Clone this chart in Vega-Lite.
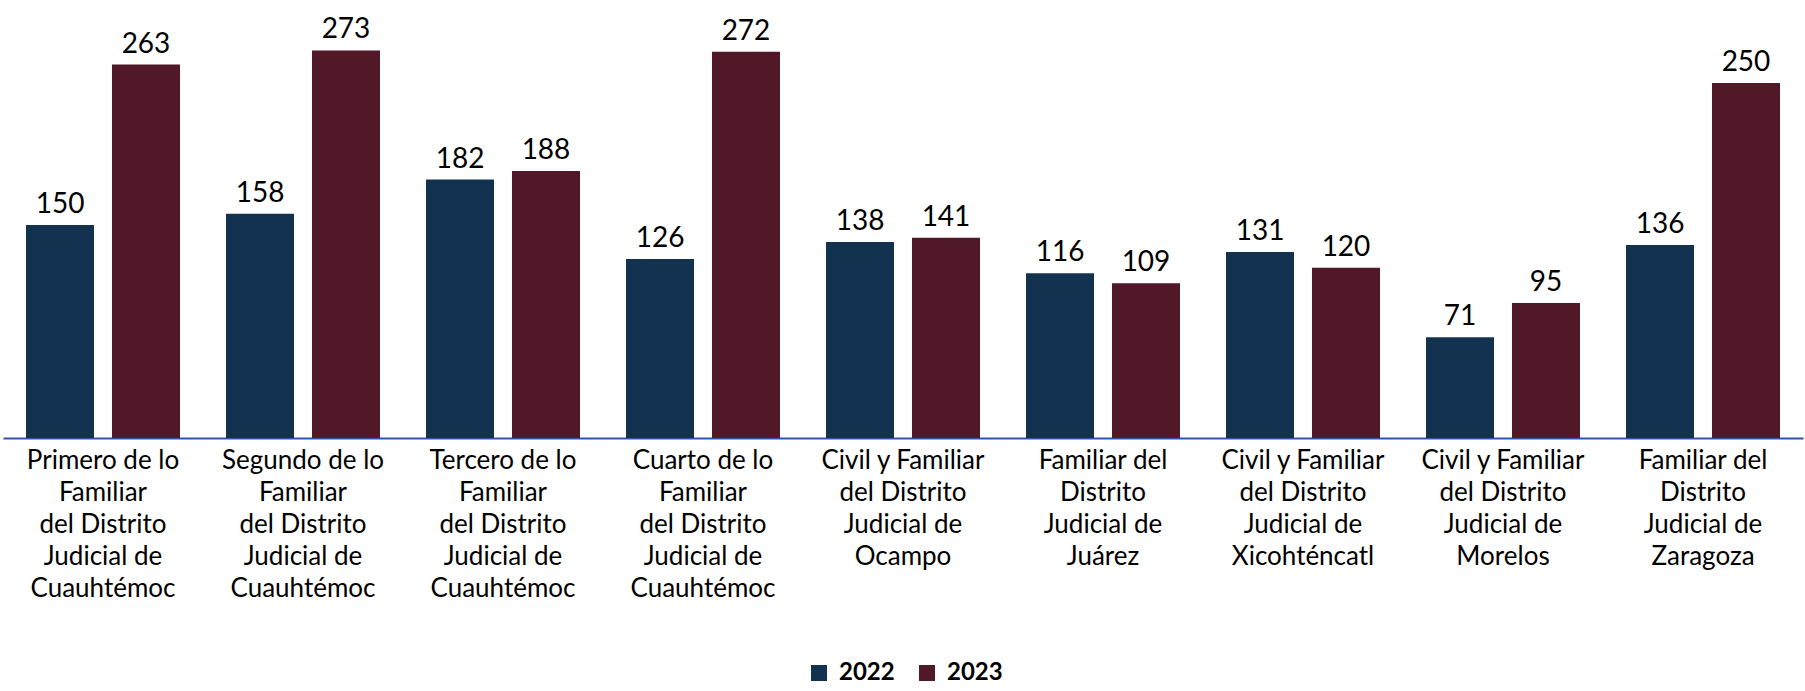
{
  "$schema": "https://vega.github.io/schema/vega-lite/v6.json",
  "autosize": "none",
  "width": 1800,
  "height": 438,
  "padding": {"left": 3, "top": 0, "right": 2, "bottom": 253},
  "background": "white",
  "config": {"view": {"stroke": null}, "font": "Lato"},
  "data": {"values": [
    {"juzgado": "Primero de lo|Familiar|del Distrito|Judicial de|Cuauhtémoc", "anio": "2022", "valor": 150},
    {"juzgado": "Primero de lo|Familiar|del Distrito|Judicial de|Cuauhtémoc", "anio": "2023", "valor": 263},
    {"juzgado": "Segundo de lo|Familiar|del Distrito|Judicial de|Cuauhtémoc", "anio": "2022", "valor": 158},
    {"juzgado": "Segundo de lo|Familiar|del Distrito|Judicial de|Cuauhtémoc", "anio": "2023", "valor": 273},
    {"juzgado": "Tercero de lo|Familiar|del Distrito|Judicial de|Cuauhtémoc", "anio": "2022", "valor": 182},
    {"juzgado": "Tercero de lo|Familiar|del Distrito|Judicial de|Cuauhtémoc", "anio": "2023", "valor": 188},
    {"juzgado": "Cuarto de lo|Familiar|del Distrito|Judicial de|Cuauhtémoc", "anio": "2022", "valor": 126},
    {"juzgado": "Cuarto de lo|Familiar|del Distrito|Judicial de|Cuauhtémoc", "anio": "2023", "valor": 272},
    {"juzgado": "Civil y Familiar|del Distrito|Judicial de|Ocampo", "anio": "2022", "valor": 138},
    {"juzgado": "Civil y Familiar|del Distrito|Judicial de|Ocampo", "anio": "2023", "valor": 141},
    {"juzgado": "Familiar del|Distrito|Judicial de|Juárez", "anio": "2022", "valor": 116},
    {"juzgado": "Familiar del|Distrito|Judicial de|Juárez", "anio": "2023", "valor": 109},
    {"juzgado": "Civil y Familiar|del Distrito|Judicial de|Xicohténcatl", "anio": "2022", "valor": 131},
    {"juzgado": "Civil y Familiar|del Distrito|Judicial de|Xicohténcatl", "anio": "2023", "valor": 120},
    {"juzgado": "Civil y Familiar|del Distrito|Judicial de|Morelos", "anio": "2022", "valor": 71},
    {"juzgado": "Civil y Familiar|del Distrito|Judicial de|Morelos", "anio": "2023", "valor": 95},
    {"juzgado": "Familiar del|Distrito|Judicial de|Zaragoza", "anio": "2022", "valor": 136},
    {"juzgado": "Familiar del|Distrito|Judicial de|Zaragoza", "anio": "2023", "valor": 250}
  ]},
  "encoding": {
    "x": {
      "field": "juzgado", "type": "nominal", "sort": null,
      "scale": {"paddingInner": 0.23, "paddingOuter": 0.115},
      "axis": {
        "title": null, "labelAngle": 0, "ticks": false, "grid": false,
        "domainColor": "#2F55A4", "domainWidth": 2,
        "labelExpr": "split(datum.label, '|')",
        "labelFont": "Lato", "labelFontSize": 26, "labelLineHeight": 32,
        "labelColor": "#000000", "labelBaseline": "top", "labelPadding": 9,
        "labelLimit": 0
      }
    },
    "xOffset": {"field": "anio", "type": "nominal", "scale": {"paddingInner": 0.209, "paddingOuter": 0}},
    "y": {"field": "valor", "type": "quantitative", "scale": {"domain": [0, 308.5], "nice": false}, "axis": null}
  },
  "layer": [
    {
      "mark": {"type": "bar"},
      "encoding": {
        "color": {
          "field": "anio", "type": "nominal",
          "scale": {"domain": ["2022", "2023"], "range": ["#13324F", "#511827"]},
          "legend": {
            "title": null, "orient": "none", "direction": "horizontal",
            "legendX": 804, "legendY": 661,
            "symbolType": "square", "symbolSize": 256, "symbolStrokeWidth": 0,
            "labelFont": "Lato", "labelFontSize": 24, "labelFontWeight": "bold",
            "labelColor": "#000000", "columnPadding": 20, "labelOffset": 8
          }
        }
      }
    },
    {
      "mark": {"type": "text", "baseline": "alphabetic", "dy": -12, "font": "Lato", "fontSize": 28, "color": "#000000"},
      "encoding": {"text": {"field": "valor", "type": "quantitative"}}
    }
  ]
}
